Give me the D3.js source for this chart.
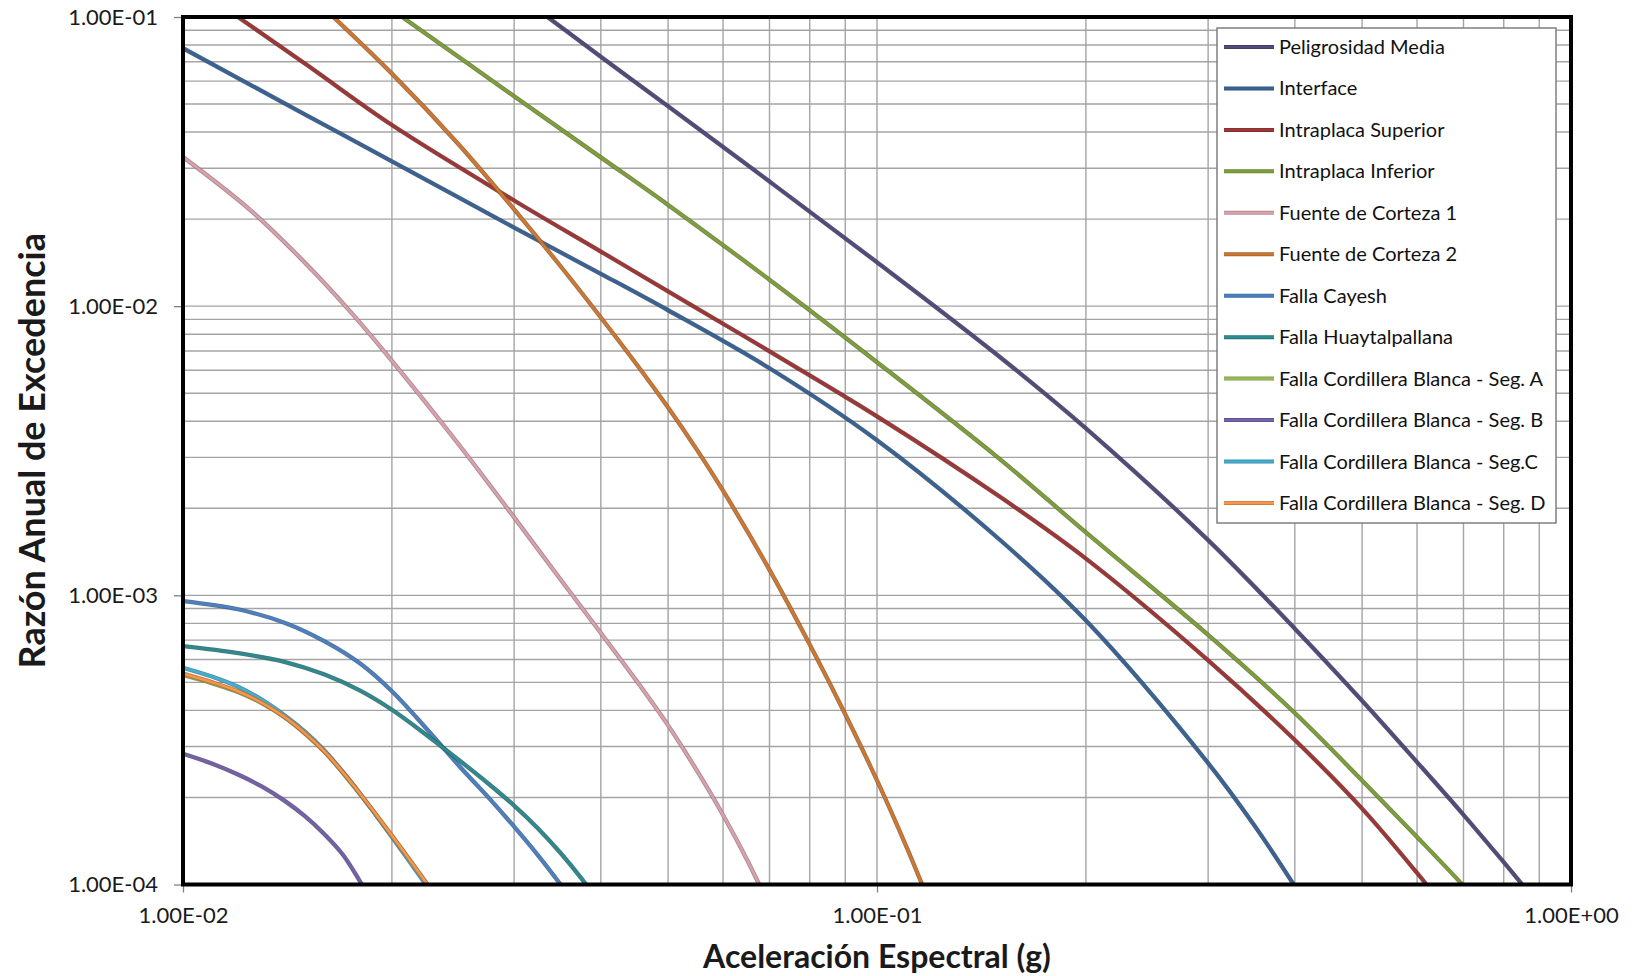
<!DOCTYPE html>
<html>
<head>
<meta charset="utf-8">
<script src="https://cdn.jsdelivr.net/npm/d3@7"></script>
<style>
  html, body { margin: 0; padding: 0; background: #fff; }
  svg { display: block; font-family: Lato, "Open Sans", sans-serif; }
</style>
</head>
<body>
<svg id="chart" width="1632" height="976"></svg>
<script>
// Curvas de peligro: aceleración espectral (g) vs razón anual de excedencia
const seriesNames = [
  "Peligrosidad Media", "Interface", "Intraplaca Superior", "Intraplaca Inferior",
  "Fuente de Corteza 1", "Fuente de Corteza 2", "Falla Cayesh", "Falla Huaytalpallana",
  "Falla Cordillera Blanca - Seg. A", "Falla Cordillera Blanca - Seg. B",
  "Falla Cordillera Blanca - Seg.C", "Falla Cordillera Blanca - Seg. D"
];

const pmAccel = [0.03, 0.04, 0.05, 0.07, 0.1, 0.15, 0.2, 0.3, 0.4, 0.5, 0.6, 0.7, 0.8, 1.0];
const pmRate  = [1.219e-1, 7.29e-2, 4.91e-2, 2.698e-2, 1.419e-2, 6.70e-3, 3.78e-3, 1.552e-3, 7.67e-4, 4.32e-4, 2.65e-4, 1.742e-4, 1.194e-4, 6.25e-5];

const ifAccel = [0.01, 0.015, 0.02, 0.03, 0.04, 0.05, 0.07, 0.1, 0.15, 0.2, 0.3, 0.35, 0.4, 0.5];
const ifRate  = [7.8e-2, 4.6e-2, 3.17e-2, 1.87e-2, 1.294e-2, 9.68e-3, 6.10e-3, 3.44e-3, 1.563e-3, 8.18e-4, 2.63e-4, 1.596e-4, 9.86e-5, 4.13e-5];

const isAccel = [0.01, 0.015, 0.02, 0.03, 0.04, 0.05, 0.07, 0.1, 0.15, 0.2, 0.3, 0.4, 0.5, 0.6, 0.7];
const isRate  = [1.355e-1, 6.89e-2, 4.23e-2, 2.32e-2, 1.545e-2, 1.125e-2, 6.98e-3, 4.16e-3, 2.2e-3, 1.34e-3, 5.96e-4, 3.16e-4, 1.83e-4, 1.096e-4, 6.9e-5];

const iiAccel = [0.02, 0.03, 0.04, 0.05, 0.07, 0.1, 0.15, 0.2, 0.3, 0.4, 0.5, 0.6, 0.7, 0.8];
const iiRate  = [1.06e-1, 5.32e-2, 3.27e-2, 2.24e-2, 1.234e-2, 6.4e-3, 2.97e-3, 1.65e-3, 7.3e-4, 3.92e-4, 2.29e-4, 1.46e-4, 9.9e-5, 6.93e-5];

const fc1Accel = [0.01, 0.0125, 0.015, 0.0175, 0.02, 0.025, 0.03, 0.035, 0.04, 0.045, 0.05, 0.055, 0.06, 0.065, 0.07];
const fc1Rate  = [3.28e-2, 2.15e-2, 1.41e-2, 9.46e-3, 6.47e-3, 3.31e-3, 1.86e-3, 1.135e-3, 7.41e-4, 5.07e-4, 3.55e-4, 2.48e-4, 1.74e-4, 1.216e-4, 8.41e-5];

const fc2Accel = [0.015, 0.02, 0.025, 0.03, 0.035, 0.04, 0.045, 0.05, 0.055, 0.06, 0.07, 0.08, 0.09, 0.1, 0.11, 0.12];
const fc2Rate  = [1.236e-1, 6.37e-2, 3.61e-2, 2.163e-2, 1.374e-2, 9.14e-3, 6.31e-3, 4.46e-3, 3.19e-3, 2.30e-3, 1.225e-3, 6.76e-4, 3.88e-4, 2.29e-4, 1.368e-4, 8.26e-5];

const cayAccel = [0.01, 0.012, 0.014, 0.016, 0.018, 0.02, 0.0225, 0.025, 0.0275, 0.03, 0.0325, 0.035, 0.0375];
const cayRate  = [9.55e-4, 8.95e-4, 8.04e-4, 6.93e-4, 5.81e-4, 4.66e-4, 3.43e-4, 2.57e-4, 2.01e-4, 1.585e-4, 1.259e-4, 1.0e-4, 7.98e-5];

const huaAccel = [0.01, 0.012, 0.014, 0.016, 0.018, 0.02, 0.0225, 0.025, 0.0275, 0.03, 0.0325, 0.035, 0.0375, 0.04];
const huaRate  = [6.67e-4, 6.31e-4, 5.89e-4, 5.32e-4, 4.68e-4, 4.02e-4, 3.27e-4, 2.69e-4, 2.24e-4, 1.875e-4, 1.56e-4, 1.285e-4, 1.05e-4, 8.53e-5];

const segAccel = [0.01, 0.011, 0.012, 0.013, 0.014, 0.015, 0.016, 0.017, 0.018, 0.019, 0.02, 0.021, 0.022, 0.023];
const segARate = [5.3e-4, 4.97e-4, 4.63e-4, 4.23e-4, 3.79e-4, 3.32e-4, 2.87e-4, 2.43e-4, 2.05e-4, 1.73e-4, 1.47e-4, 1.255e-4, 1.076e-4, 9.26e-5];
const segCRate = [5.62e-4, 5.24e-4, 4.83e-4, 4.35e-4, 3.85e-4, 3.37e-4, 2.90e-4, 2.45e-4, 2.06e-4, 1.73e-4, 1.46e-4, 1.24e-4, 1.06e-4, 9.08e-5];
const segDRate = [5.36e-4, 5.01e-4, 4.66e-4, 4.25e-4, 3.80e-4, 3.33e-4, 2.88e-4, 2.44e-4, 2.06e-4, 1.74e-4, 1.476e-4, 1.259e-4, 1.079e-4, 9.29e-5];

const segBAccel = [0.01, 0.011, 0.012, 0.013, 0.014, 0.015, 0.016, 0.017, 0.018, 0.019];
const segBRate  = [2.83e-4, 2.62e-4, 2.40e-4, 2.18e-4, 1.95e-4, 1.72e-4, 1.49e-4, 1.268e-4, 1.023e-4, 8.2e-5];

const seriesAccel = [pmAccel, ifAccel, isAccel, iiAccel, fc1Accel, fc2Accel, cayAccel, huaAccel, segAccel, segBAccel, segAccel, segAccel];
const seriesRate  = [pmRate, ifRate, isRate, iiRate, fc1Rate, fc2Rate, cayRate, huaRate, segARate, segBRate, segCRate, segDRate];

const xTickValues = [0.01, 0.1, 1];
const xTickLabels = ["1.00E-02", "1.00E-01", "1.00E+00"];
const yTickValues = [1e-4, 1e-3, 1e-2, 1e-1];
const yTickLabels = ["1.00E-04", "1.00E-03", "1.00E-02", "1.00E-01"];

const xTitle = "Aceleración Espectral (g)";
const yTitle = "Razón Anual de Excedencia";

// Line colours, one per series
const seriesColors = [
  "#534a7c", "#396394", "#9e3636", "#7f9f3b", "#d8a2ad", "#cd7833",
  "#4c80c0", "#2e8a8e", "#9bbb59", "#7462a8", "#46aed0", "#f7964a"
];

// ---- layout ----
const plot = { left: 183, right: 1571, top: 17, bottom: 884.5 };

const svg = d3.select("#chart");

const x = d3.scaleLog().domain([0.01, 1]).range([plot.left, plot.right]);
const y = d3.scaleLog().domain([1e-4, 1e-1]).range([plot.bottom, plot.top]);

svg.append("defs").append("clipPath").attr("id", "plotClip")
  .append("rect")
  .attr("x", plot.left).attr("y", plot.top)
  .attr("width", plot.right - plot.left).attr("height", plot.bottom - plot.top);

// gridlines at every 1..9 of each decade
function decadeSteps(lo, hi) {
  const out = [];
  for (let e = Math.round(Math.log10(lo)); e < Math.round(Math.log10(hi)); e++) {
    for (let m = 1; m <= 9; m++) out.push(m * Math.pow(10, e));
  }
  out.push(hi);
  return out;
}
const grid = svg.append("g").attr("stroke", "#a4a4a4").attr("stroke-width", 1.4);
grid.selectAll("line.gx").data(decadeSteps(0.01, 1)).join("line")
  .attr("class", "gx")
  .attr("x1", d => x(d)).attr("x2", d => x(d))
  .attr("y1", plot.top).attr("y2", plot.bottom);
grid.selectAll("line.gy").data(decadeSteps(1e-4, 1e-1)).join("line")
  .attr("class", "gy")
  .attr("x1", plot.left).attr("x2", plot.right)
  .attr("y1", d => y(d)).attr("y2", d => y(d));

// axes (ticks + labels)
const xAxis = d3.axisBottom(x).tickValues(xTickValues)
  .tickFormat((d, i) => xTickLabels[i]).tickSizeOuter(0).tickSizeInner(8).tickPadding(15);
const yAxis = d3.axisLeft(y).tickValues(yTickValues)
  .tickFormat((d, i) => yTickLabels[i]).tickSizeOuter(0).tickSizeInner(9).tickPadding(16);

const gx = svg.append("g").attr("transform", `translate(0,${plot.bottom})`).call(xAxis);
const gy = svg.append("g").attr("transform", `translate(${plot.left},0)`).call(yAxis);
[gx, gy].forEach(g => {
  g.select(".domain").remove();
  g.selectAll(".tick line").attr("stroke", "#808080").attr("stroke-width", 1.3);
  g.selectAll(".tick text")
    .attr("fill", "#1a1a1a")
    .style("font-family", "Lato, sans-serif")
    .style("font-size", "22px");
});

// curves
const line = d3.line()
  .x(d => x(d[0]))
  .y(d => y(d[1]))
  .curve(d3.curveCatmullRom.alpha(0.5));

const curves = svg.append("g").attr("clip-path", "url(#plotClip)");
seriesNames.forEach((name, i) => {
  const pts = seriesAccel[i].map((a, k) => [a, seriesRate[i][k]]);
  const base = d3.color(seriesColors[i]);
  const g = curves.append("g");
  g.append("path").datum(pts)
    .attr("d", line).attr("fill", "none")
    .attr("stroke", base.darker(0.9)).attr("stroke-width", 4.3)
    .attr("stroke-opacity", 0.85)
    .attr("stroke-linejoin", "round").attr("stroke-linecap", "round");
  g.append("path").datum(pts)
    .attr("d", line).attr("fill", "none")
    .attr("stroke", base).attr("stroke-width", 2.5)
    .attr("stroke-linejoin", "round").attr("stroke-linecap", "round");
});

// plot frame
svg.append("rect")
  .attr("x", plot.left).attr("y", plot.top)
  .attr("width", plot.right - plot.left).attr("height", plot.bottom - plot.top)
  .attr("fill", "none").attr("stroke", "#000").attr("stroke-width", 4);

// axis titles
svg.append("text")
  .attr("x", (plot.left + plot.right) / 2).attr("y", 968)
  .attr("text-anchor", "middle")
  .style("font-family", "Lato, sans-serif").style("font-weight", "bold")
  .style("font-size", "32px").attr("fill", "#1a1a1a")
  .text(xTitle);

svg.append("text")
  .attr("transform", `translate(45,${(plot.top + plot.bottom) / 2}) rotate(-90)`)
  .attr("text-anchor", "middle")
  .style("font-family", "Lato, sans-serif").style("font-weight", "bold")
  .style("font-size", "36px").attr("fill", "#1a1a1a")
  .text(yTitle);

// legend
const legend = { x: 1217, y: 28, w: 339, h: 495, row: 41.45, first: 47 };
const lg = svg.append("g");
lg.append("rect")
  .attr("x", legend.x).attr("y", legend.y)
  .attr("width", legend.w).attr("height", legend.h)
  .attr("fill", "#fff").attr("stroke", "#7f7f7f").attr("stroke-width", 1.5);
const items = lg.selectAll("g.item").data(seriesNames).join("g")
  .attr("class", "item")
  .attr("transform", (d, i) => `translate(0,${legend.first + i * legend.row})`);
items.append("line")
  .attr("x1", legend.x + 7).attr("x2", legend.x + 57)
  .attr("stroke", (d, i) => d3.color(seriesColors[i]).darker(0.5))
  .attr("stroke-width", 4);
items.append("line")
  .attr("x1", legend.x + 7).attr("x2", legend.x + 57)
  .attr("stroke", (d, i) => seriesColors[i])
  .attr("stroke-width", 2.2);
items.append("text")
  .attr("x", legend.x + 62).attr("dy", "0.35em")
  .style("font-family", "Lato, sans-serif").style("font-size", "20px")
  .attr("fill", "#111")
  .text(d => d);
</script>
</body>
</html>
